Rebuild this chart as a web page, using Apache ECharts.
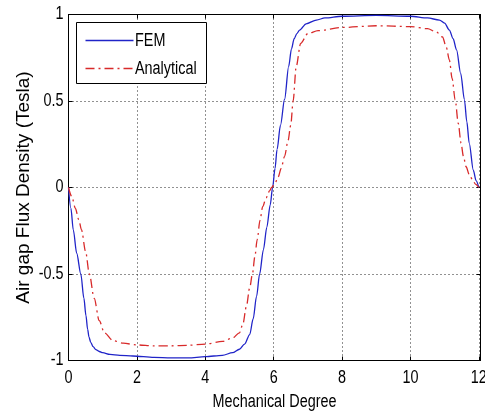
<!DOCTYPE html>
<html>
<head>
<meta charset="utf-8">
<script src="https://cdn.jsdelivr.net/npm/echarts@6/dist/echarts.min.js"></script>
<style>
  html, body { margin: 0; padding: 0; background: #fff; }
  #chart { width: 485px; height: 411px; }
</style>
</head>
<body>
<div id="chart"></div>
<script>
// Air gap flux density over one pole pair, FEM vs analytical model
const femX = [0, 0.07, 0.14, 0.24, 0.36, 0.45, 0.51, 0.56, 0.6, 0.65, 0.72, 0.8, 0.9, 1.0, 1.21, 1.5, 1.88, 2.5, 3.0, 3.5, 4.0, 4.5, 4.8, 5.0, 5.15, 5.3, 5.4, 5.5, 5.59, 5.7, 5.8, 5.9, 5.97, 6.04, 6.1, 6.2, 6.32, 6.44, 6.52, 6.6, 6.68, 6.76, 6.95, 7.25, 7.5, 8.0, 9.0, 10.0, 10.5, 10.85, 11.0, 11.14, 11.25, 11.35, 11.47, 11.58, 11.65, 11.72, 11.84, 11.92, 12.0];
const femY = [0, -0.12, -0.245, -0.38, -0.50, -0.64, -0.74, -0.82, -0.865, -0.895, -0.92, -0.937, -0.948, -0.955, -0.965, -0.97, -0.974, -0.982, -0.985, -0.985, -0.978, -0.97, -0.955, -0.935, -0.905, -0.85, -0.76, -0.63, -0.50, -0.36, -0.23, -0.10, 0, 0.11, 0.22, 0.36, 0.51, 0.70, 0.80, 0.86, 0.89, 0.91, 0.946, 0.968, 0.98, 0.99, 0.995, 0.99, 0.98, 0.968, 0.95, 0.91, 0.86, 0.795, 0.66, 0.507, 0.38, 0.257, 0.10, 0.04, 0];

const anaX = [0, 0.1, 0.2, 0.3, 0.38, 0.5, 0.61, 0.75, 0.9, 1.05, 1.3, 1.6, 2.0, 2.5, 3.0, 3.5, 4.0, 4.5, 4.8, 5.0, 5.1, 5.2, 5.3, 5.38, 5.45, 5.52, 5.6, 5.68, 5.78, 5.88, 5.94, 6.04, 6.13, 6.22, 6.32, 6.42, 6.5, 6.57, 6.66, 6.79, 7.0, 7.3, 8.0, 9.0, 10.0, 10.5, 10.75, 10.94, 11.05, 11.14, 11.22, 11.31, 11.4, 11.48, 11.55, 11.63, 11.72, 11.82, 11.9, 12.0];
const anaY = [0, -0.055, -0.12, -0.185, -0.245, -0.37, -0.50, -0.64, -0.77, -0.84, -0.885, -0.9, -0.91, -0.915, -0.915, -0.912, -0.905, -0.89, -0.87, -0.84, -0.79, -0.69, -0.58, -0.50, -0.40, -0.30, -0.19, -0.11, -0.06, -0.02, 0, 0.025, 0.06, 0.11, 0.18, 0.27, 0.36, 0.50, 0.70, 0.833, 0.89, 0.907, 0.925, 0.935, 0.93, 0.918, 0.9, 0.87, 0.81, 0.737, 0.63, 0.507, 0.37, 0.257, 0.18, 0.12, 0.075, 0.044, 0.02, 0];

const xTicks = [0, 2, 4, 6, 8, 10, 12];
const yTicks = [-1, -0.5, 0, 0.5, 1];
const seriesNames = ['FEM', 'Analytical'];

const BLUE = '#2024c8';
const RED = '#d82a2a';
const DASH_DOT = [9, 4, 2, 4];
const FONT = '"Liberation Sans", Arial, Helvetica, sans-serif';
const NARROW = 0.8;   // horizontal squeeze giving a condensed Helvetica look
const FS = 18;

const gridLine = { show: true, lineStyle: { color: '#222', width: 1, type: [1, 3] } };
const toPairs = (xs, ys) => xs.map((x, i) => [x, ys[i]]);

const chart = echarts.init(document.getElementById('chart'), null, { renderer: 'canvas' });

const xBase = {
  type: 'value', min: 0, max: 12.05, interval: 2,
  axisLine: { show: true, onZero: false, lineStyle: { color: '#000', width: 1 } },
  axisTick: { show: true, inside: true, length: 4, lineStyle: { color: '#000' } },
  axisLabel: { show: false }
};
const yBase = {
  type: 'value', min: -1, max: 1, interval: 0.5,
  axisLine: { show: true, onZero: false, lineStyle: { color: '#000', width: 1 } },
  axisTick: { show: true, inside: true, length: 4, lineStyle: { color: '#000' } },
  axisLabel: { show: false }
};

chart.setOption({
  animation: false,
  backgroundColor: '#fff',
  grid: { left: 68.5, right: 4.5, top: 14.5, bottom: 50.5, show: true, borderColor: '#000', borderWidth: 1 },
  xAxis: [
    Object.assign({}, xBase, { position: 'bottom', splitLine: gridLine }),
    Object.assign({}, xBase, { position: 'top', splitLine: { show: false } })
  ],
  yAxis: [
    Object.assign({}, yBase, {
      position: 'left', splitLine: gridLine,
      name: 'Air gap Flux Density (Tesla)', nameLocation: 'middle', nameGap: 35,
      nameTextStyle: { fontFamily: FONT, fontSize: 19, color: '#000' }
    }),
    Object.assign({}, yBase, { position: 'right', splitLine: { show: false } })
  ],
  series: [
    {
      name: seriesNames[0], type: 'line', data: toPairs(femX, femY),
      showSymbol: false, symbol: 'none', smooth: 0.3, smoothMonotone: 'x',
      lineStyle: { color: BLUE, width: 1.3 }
    },
    {
      name: seriesNames[1], type: 'line', data: toPairs(anaX, anaY),
      showSymbol: false, symbol: 'none', smooth: 0.3, smoothMonotone: 'x',
      lineStyle: { color: RED, width: 1.3, type: DASH_DOT }
    }
  ]
});

// Condensed text: a plain text element squeezed horizontally around its anchor
function label(text, x, y, align, vAlign) {
  return {
    type: 'text', x: x, y: y, scaleX: NARROW, z: 100,
    style: { text: text, x: 0, y: 0, fill: '#000', font: FS + 'px ' + FONT, align: align, verticalAlign: vAlign }
  };
}

const px = v => chart.convertToPixel({ xAxisIndex: 0 }, v);
const py = v => chart.convertToPixel({ yAxisIndex: 0 }, v);
const axisBottom = py(-1);
const axisLeft = px(0);

const graphics = [];
xTicks.forEach(v => graphics.push(label(String(v), px(v), axisBottom + 9, 'center', 'top')));
yTicks.forEach(v => graphics.push(label(String(v), axisLeft - 5, py(v), 'right', 'middle')));
graphics.push(label('Mechanical Degree', (px(0) + px(12.05)) / 2, axisBottom + 33, 'center', 'top'));

// Legend box in the upper-left corner of the plot
const lg = { x: 76.5, y: 22.5, w: 130, h: 61 };
graphics.push({
  type: 'rect', z: 90,
  shape: { x: lg.x, y: lg.y, width: lg.w, height: lg.h },
  style: { fill: '#fff', stroke: '#000', lineWidth: 1 }
});
const legendRows = [
  { name: seriesNames[0], color: BLUE, dash: null, y: 40.5 },
  { name: seriesNames[1], color: RED, dash: DASH_DOT, y: 68.5 }
];
legendRows.forEach(r => {
  graphics.push({
    type: 'line', z: 95,
    shape: { x1: 85.5, y1: r.y, x2: 133.5, y2: r.y },
    style: { stroke: r.color, lineWidth: 1.3, lineDash: r.dash }
  });
  graphics.push(label(r.name, 135, r.y + 1, 'left', 'middle'));
});

chart.setOption({ graphic: graphics });
</script>
</body>
</html>
